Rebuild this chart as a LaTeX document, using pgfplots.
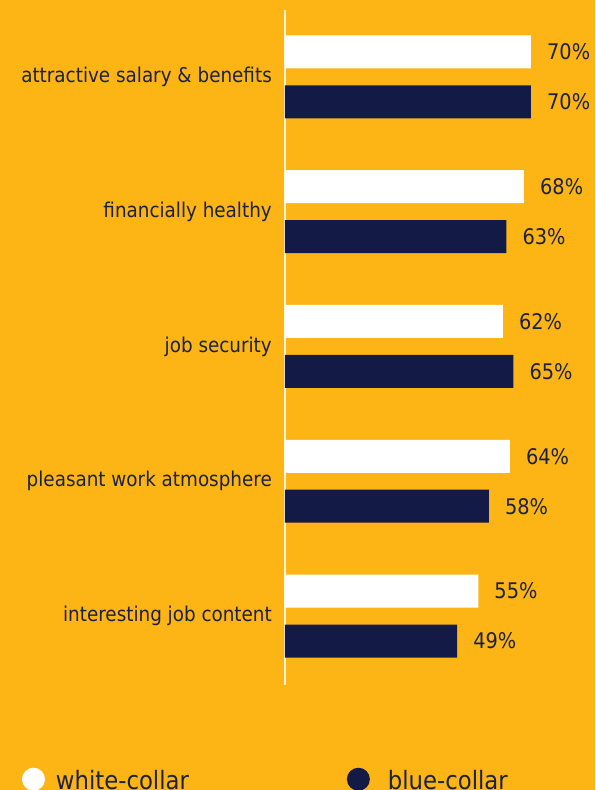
\documentclass[border=0pt]{standalone}
\usepackage{fontspec}
\setmainfont{DejaVu Sans Condensed}
\usepackage{pgfplots}
\pgfplotsset{compat=1.18}
\definecolor{bg}{HTML}{FDB515}
\definecolor{navy}{HTML}{121A45}
\definecolor{navytext}{HTML}{1C2140}
\definecolor{axisline}{HTML}{FFF4DA}
\newcommand{\catfont}{\fontsize{20.4}{23}\selectfont}
\newcommand{\lblfont}{\fontsize{21.5}{24}\selectfont}
\newcommand{\legfont}{\fontsize{25.3}{28}\selectfont}

\begin{document}
\begin{tikzpicture}
\fill[bg] (0,0) rectangle (595pt,790pt);
\useasboundingbox (0,0) rectangle (595pt,790pt);
\begin{axis}[
    at={(285pt,105pt)}, anchor=south west,
    scale only axis, width=298.7pt, height=675pt,
    xmin=0, xmax=85,
    ymin=-0.497, ymax=4.512, y dir=reverse,
    xbar, bar width=33pt, bar shift=0pt,
    axis x line=none,
    axis y line=left,
    y axis line style={-, axisline, line width=1.5pt},
    xtick=\empty,
    ytick={0,1,2,3,4},
    yticklabels={attractive salary \& benefits, financially healthy, job security, pleasant work atmosphere, interesting job content},
    major tick length=0pt,
    yticklabel style={font=\catfont, text=navytext, anchor=east, inner sep=0pt, xshift=-13pt},
    clip=false,
    point meta=x,
    /pgf/number format/assume math mode=true,
    nodes near coords={\pgfmathprintnumber{\pgfplotspointmeta}\%},
    every node near coord/.append style={anchor=west, inner sep=0pt, xshift=16pt, font=\lblfont, text=navytext},
    legend columns=2,
    legend style={draw=none, fill=none, at={(-0.8805,-0.1396)}, anchor=west,
        inner sep=0pt, outer sep=0pt,
        nodes={inner sep=0pt, font=\legfont, text=navytext},
        /tikz/column 1/.style={column sep=11pt},
        /tikz/column 2/.style={column sep=158pt},
        /tikz/column 3/.style={column sep=18pt}},
]
% white-collar
\addplot[fill=white, draw=none,
    legend image code/.code={\fill[white] (11.5pt,1pt) circle (11.5pt);}]
    coordinates {(70,-0.1855) (68,0.8145) (62,1.8145) (64,2.8145) (55,3.8145)};
\addlegendentry{white-collar}
% blue-collar
\addplot[fill=navy, draw=none,
    legend image code/.code={\fill[navy] (11.5pt,1pt) circle (11.5pt);}]
    coordinates {(70,0.1855) (63,1.1855) (65,2.1855) (58,3.1855) (49,4.1855)};
\addlegendentry{blue-collar}
\end{axis}
\end{tikzpicture}
\end{document}
